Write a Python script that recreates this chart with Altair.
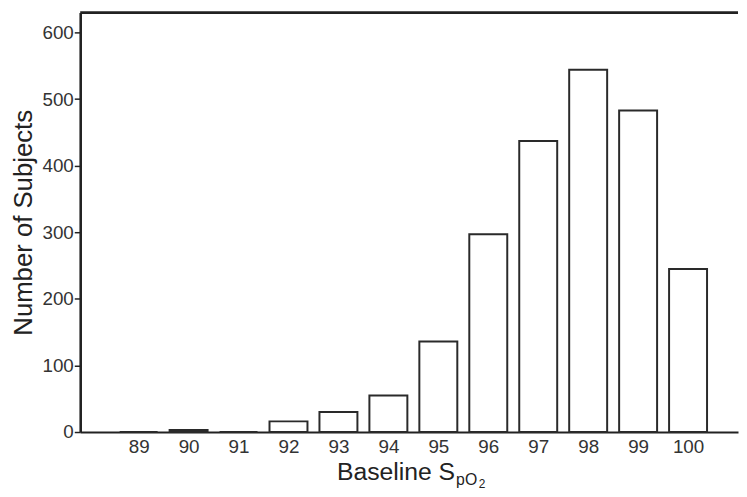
import altair as alt
import pandas as pd

spo2 = [89, 90, 91, 92, 93, 94, 95, 96, 97, 98, 99, 100]
subjects = [0, 3, 0, 16, 30, 55, 136, 297, 437, 544, 483, 245]
y_ticks = [0, 100, 200, 300, 400, 500, 600]
y_title = "Number of Subjects"
x_title_main = "Baseline S"
x_title_sub1 = "pO"
x_title_sub2 = "2"

FONT = "Liberation Sans"
W, H = 665, 424

df = pd.DataFrame({"spo2": spo2, "n": subjects})

xscale = alt.Scale(domain=[87.83, 101.0], nice=False, zero=False)
yscale = alt.Scale(domain=[0, 630], nice=False)

bars = alt.Chart(df).transform_calculate(
    x0="datum.spo2 - 0.38", x1="datum.spo2 + 0.38"
).mark_rect(fill="white", stroke="#2a2a2a", strokeWidth=2).encode(
    x=alt.X("x0:Q", scale=xscale,
            axis=alt.Axis(values=spo2, format="d", title=None, ticks=False,
                          grid=False, domainWidth=2.2, domainColor="#222222",
                          labelFontSize=19, labelColor="#333333", labelPadding=6,
                          labelFont=FONT)),
    x2="x1:Q",
    y=alt.Y("n:Q", scale=yscale,
            axis=alt.Axis(values=y_ticks, format="d", title=y_title, grid=False,
                          domainWidth=2.6, domainColor="#222222", tickColor="#222222",
                          tickSize=6, tickWidth=1.5, labelFontSize=19,
                          labelColor="#333333", labelPadding=1, labelFont=FONT,
                          titleFont=FONT, titleFontSize=26, titleFontWeight="normal",
                          titleColor="#222222", titlePadding=6)),
    y2=alt.datum(0),
)

top_rule = alt.Chart(pd.DataFrame({"a": [0]})).mark_rule(
    color="#222222", strokeWidth=3
).encode(x=alt.value(0), x2=alt.value(W), y=alt.value(0))

t_main = alt.Chart(pd.DataFrame({"t": [x_title_main]})).mark_text(
    font=FONT, fontSize=25, align="right", baseline="alphabetic", color="#222222"
).encode(text="t:N", x=alt.value(379), y=alt.value(473))

t_sub1 = alt.Chart(pd.DataFrame({"t": [x_title_sub1]})).mark_text(
    font=FONT, fontSize=16, align="left", baseline="alphabetic", color="#222222"
).encode(text="t:N", x=alt.value(380), y=alt.value(478))

t_sub2 = alt.Chart(pd.DataFrame({"t": [x_title_sub2]})).mark_text(
    font=FONT, fontSize=12, align="left", baseline="alphabetic", color="#222222"
).encode(text="t:N", x=alt.value(403), y=alt.value(481))

chart = alt.layer(bars, top_rule, t_main, t_sub1, t_sub2).properties(
    width=W, height=H,
    autosize=alt.AutoSizeParams(type="none"),
    padding={"left": 73, "top": 2, "right": 1, "bottom": 60},
).configure_view(stroke=None)

chart.save("out.html", embed_options={"renderer": "svg", "actions": False})
